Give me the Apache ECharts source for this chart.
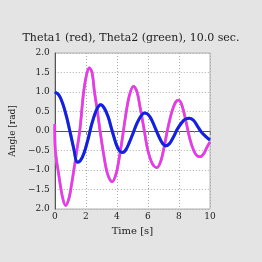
<!DOCTYPE html>
<html><head><meta charset="utf-8">
<script src="https://cdn.jsdelivr.net/npm/echarts@6/dist/echarts.min.js"></script>
<style>html,body{margin:0;padding:0;background:#e4e4e4;}#c{width:262px;height:262px;}</style>
</head><body><div id="c"></div>
<script>
const titleText = "Theta1 (red), Theta2 (green), 10.0 sec.";
const xTicks = [0, 2, 4, 6, 8, 10];
const yTicks = [-2.0, -1.5, -1.0, -0.5, 0.0, 0.5, 1.0, 1.5, 2.0];
const yTickLabels = ["2.0", "\u22121.5", "\u22121.0", "\u22120.5", "0.0", "0.5", "1.0", "1.5", "2.0"];
const theta1T = [0, 0.03, 0.25, 0.5, 0.7, 0.9, 1.05, 1.23, 1.42, 1.61, 1.86, 2.05, 2.22, 2.4, 2.56, 2.75, 2.92, 3.15, 3.4, 3.7, 3.95, 4.15, 4.35, 4.55, 4.8, 5.07, 5.3, 5.5, 5.75, 6.0, 6.3, 6.58, 6.85, 7.05, 7.3, 7.55, 7.8, 7.99, 8.2, 8.45, 8.7, 8.95, 9.15, 9.37, 9.6, 9.8, 10];
const theta1V = [0.18, -0.45, -1.1, -1.7, -1.91, -1.75, -1.45, -1.0, -0.5, 0.0, 1.0, 1.45, 1.62, 1.5, 1.0, 0.5, 0.0, -0.6, -1.1, -1.3, -1.1, -0.7, -0.2, 0.35, 0.9, 1.15, 1.0, 0.6, 0.05, -0.5, -0.85, -0.94, -0.75, -0.4, 0.1, 0.5, 0.75, 0.79, 0.65, 0.25, -0.2, -0.5, -0.63, -0.66, -0.58, -0.42, -0.28];
const theta2T = [0, 0.25, 0.5, 0.75, 1.0, 1.25, 1.44, 1.65, 1.9, 2.15, 2.4, 2.7, 2.96, 3.2, 3.45, 3.7, 3.95, 4.15, 4.34, 4.55, 4.8, 5.05, 5.3, 5.55, 5.77, 6.0, 6.25, 6.5, 6.75, 6.95, 7.15, 7.4, 7.65, 7.9, 8.15, 8.4, 8.69, 8.95, 9.2, 9.45, 9.7, 10];
const theta2V = [1.0, 0.93, 0.72, 0.38, -0.05, -0.5, -0.8, -0.76, -0.55, -0.2, 0.2, 0.55, 0.67, 0.58, 0.35, 0.0, -0.33, -0.5, -0.55, -0.5, -0.3, -0.05, 0.2, 0.38, 0.46, 0.43, 0.28, 0.05, -0.18, -0.32, -0.38, -0.32, -0.15, 0.05, 0.2, 0.3, 0.33, 0.27, 0.12, -0.03, -0.13, -0.23];

function pairs(t, v) { return t.map((x, i) => [x, v[i]]); }

const chart = echarts.init(document.getElementById('c'), null, {renderer: 'canvas'});
const font = "'DejaVu Serif', 'Liberation Serif', serif";
chart.setOption({
  backgroundColor: '#e4e4e4',
  animation: false,
  title: {
    text: titleText, left: 'center', top: 28,
    textStyle: {fontFamily: font, fontSize: 11, fontWeight: 'normal', color: '#222'}
  },
  grid: {left: 52, right: 52, top: 53, bottom: 53, show: true, backgroundColor: '#ffffff', borderColor: '#b0b0b0', borderWidth: 1},
  xAxis: {
    type: 'value', min: 0, max: 10, interval: 2,
    name: 'Time [s]', nameLocation: 'middle', nameGap: 17,
    nameTextStyle: {fontFamily: font, fontSize: 10, color: '#222'},
    axisLine: {lineStyle: {color: '#555'}},
    axisTick: {show: true, length: 4, lineStyle: {color: '#888'}},
    minorTick: {show: true, splitNumber: 2, length: 2, lineStyle: {color: '#999'}},
    axisLabel: {fontFamily: font, fontSize: 9, color: '#222', margin: 3},
    splitLine: {show: true, lineStyle: {color: '#aaa', type: [1, 2]}}
  },
  yAxis: {
    type: 'value', min: -2, max: 2, interval: 0.5,
    name: 'Angle [rad]', nameLocation: 'middle', nameGap: 27,
    nameTextStyle: {fontFamily: font, fontSize: 9, color: '#222'},
    axisLine: {show: true, lineStyle: {color: '#555'}},
    axisTick: {show: false},
    axisLabel: {fontFamily: font, fontSize: 9, color: '#222', margin: 5,
      formatter: function (v) { const i = yTicks.findIndex(t => Math.abs(t - v) < 1e-6); return i >= 0 ? yTickLabels[i] : ''; }},
    splitLine: {show: true, lineStyle: {color: '#aaa', type: [1, 2]}}
  },
  series: [
    {type: 'line', data: pairs(theta1T, theta1V), smooth: 0.35, showSymbol: false,
     lineStyle: {color: '#44dd44', width: 2.8}, z: 1},
    {type: 'line', data: pairs(theta1T, theta1V), smooth: 0.35, showSymbol: false,
     lineStyle: {color: '#ff2aff', width: 2.5}, z: 2},
    {type: 'line', data: pairs(theta2T, theta2V), smooth: 0.35, showSymbol: false,
     lineStyle: {color: '#44dd44', width: 3}, z: 3},
    {type: 'line', data: pairs(theta2T, theta2V), smooth: 0.35, showSymbol: false,
     lineStyle: {color: '#1a1aee', width: 3}, z: 4}
  ]
});
</script></body></html>
